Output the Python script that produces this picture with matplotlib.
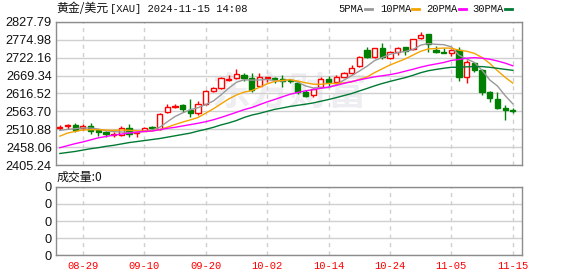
import matplotlib
matplotlib.use('Agg')
import matplotlib.pyplot as plt
import numpy as np
import pandas as pd
from matplotlib.lines import Line2D

# ---------------- data ----------------
dates = ['08-26', '08-27', '08-28', '08-29', '08-30',
         '09-02', '09-03', '09-04', '09-05', '09-06',
         '09-09', '09-10', '09-11', '09-12', '09-13',
         '09-16', '09-17', '09-18', '09-19', '09-20',
         '09-23', '09-24', '09-25', '09-26', '09-27',
         '09-30', '10-01', '10-02', '10-03', '10-04',
         '10-07', '10-08', '10-09', '10-10', '10-11',
         '10-14', '10-15', '10-16', '10-17', '10-18',
         '10-21', '10-22', '10-23', '10-24', '10-25',
         '10-28', '10-29', '10-30', '10-31', '11-01',
         '11-04', '11-05', '11-06', '11-07', '11-08',
         '11-11', '11-12', '11-13', '11-14', '11-15']

opens = [2515, 2520, 2524, 2514, 2520, 2510, 2502, 2495, 2495, 2514,
         2500, 2506, 2517, 2512, 2562, 2578, 2582, 2569, 2558, 2587,
         2623, 2632, 2656, 2661, 2672, 2661, 2638, 2662, 2661, 2659,
         2655, 2646, 2621, 2612, 2636, 2659, 2651, 2666, 2677, 2697,
         2744, 2723, 2749, 2720, 2739, 2752, 2747, 2779, 2791, 2745,
         2739, 2737, 2744, 2664, 2705, 2685, 2621, 2600, 2574, 2568]
highs = [2525, 2527, 2529, 2528, 2530, 2513, 2507, 2503, 2520, 2528,
         2503, 2517, 2522, 2560, 2587, 2587, 2587, 2600, 2593, 2626,
         2637, 2666, 2670, 2688, 2678, 2676, 2676, 2666, 2666, 2670,
         2659, 2652, 2626, 2632, 2664, 2668, 2670, 2680, 2699, 2727,
         2752, 2750, 2764, 2742, 2752, 2754, 2777, 2797, 2793, 2755,
         2750, 2747, 2754, 2714, 2708, 2688, 2623, 2622, 2582, 2575]
lows = [2510, 2511, 2502, 2508, 2497, 2490, 2488, 2488, 2492, 2489,
        2489, 2505, 2509, 2509, 2560, 2574, 2562, 2548, 2553, 2584,
        2621, 2629, 2653, 2658, 2653, 2621, 2636, 2651, 2646, 2636,
        2646, 2615, 2607, 2607, 2634, 2640, 2645, 2664, 2675, 2695,
        2720, 2720, 2717, 2717, 2730, 2730, 2745, 2777, 2738, 2736,
        2735, 2727, 2654, 2646, 2680, 2611, 2592, 2572, 2540, 2558]
closes = [2517, 2523, 2510, 2520, 2505, 2502, 2497, 2497, 2515, 2497,
          2502, 2516, 2514, 2557, 2577, 2580, 2570, 2560, 2587, 2623,
          2632, 2661, 2658, 2673, 2661, 2626, 2664, 2664, 2658, 2654,
          2652, 2621, 2609, 2629, 2658, 2651, 2665, 2677, 2693, 2725,
          2723, 2749, 2723, 2739, 2749, 2742, 2776, 2788, 2762, 2738,
          2737, 2744, 2664, 2708, 2687, 2621, 2602, 2575, 2567, 2566]
volume = [0] * 60

# moving-average values read from the chart where the window is not yet full
ma5_head = [2508, 2511, 2513, 2515]
ma10_head = [2491, 2500, 2505, 2509, 2510, 2510, 2509, 2508, 2509]
ma20_head = [2457, 2463, 2469, 2474, 2480, 2486, 2490, 2494, 2497, 2500,
             2503, 2505, 2506, 2510, 2514, 2517, 2521, 2525, 2529]
ma30_head = [2440, 2443, 2446, 2450, 2454, 2457, 2461, 2464, 2468, 2472,
             2475, 2478, 2481, 2484, 2488, 2492, 2496, 2500, 2506, 2511,
             2517, 2524, 2530, 2537, 2546, 2553, 2558, 2564, 2570]

price_ticks = [2405.24, 2458.06, 2510.88, 2563.70, 2616.52,
               2669.34, 2722.16, 2774.98, 2827.79]
xtick_labels = ['08-29', '09-10', '09-20', '10-02', '10-14', '10-24', '11-05', '11-15']
ma_names = ['5PMA', '10PMA', '20PMA', '30PMA']

# ---------------- styles ----------------
RED = '#ff0000'
GREEN = '#008000'
MA_COLORS = ['#999999', '#f5a300', '#ff00ff', '#007a33']
GRID = '#d0d0d0'
SPINE = '#8c8c8c'
W, H = 578, 276

def ma(n, head):
    s = pd.Series(closes, dtype=float).rolling(n).mean().to_numpy()
    s[:n - 1] = head
    return s

mas = [ma(5, ma5_head), ma(10, ma10_head), ma(20, ma20_head), ma(30, ma30_head)]

fig = plt.figure(figsize=(W / 100, H / 100), dpi=100)
ax = fig.add_axes([56 / W, (H - 165.3) / H, 466 / W, (165.3 - 21.7) / H])
axv = fig.add_axes([56 / W, (H - 255.3) / H, 466 / W, (255.3 - 186.7) / H], sharex=ax)

x = np.arange(len(dates))
o = np.array(opens, float)
c = np.array(closes, float)
hi = np.array(highs, float)
lo = np.array(lows, float)
up = c >= o
cols = np.where(up, RED, GREEN)

ax.vlines(x, lo, hi, colors=cols, linewidth=1.0, zorder=3)
hgt = np.maximum(np.abs(c - o), 1.0)
bot = np.minimum(o, c)
ax.bar(x[up], hgt[up], bottom=bot[up], width=0.68, facecolor='white',
       edgecolor=RED, linewidth=1.0, zorder=4)
ax.bar(x[~up], hgt[~up], bottom=bot[~up], width=0.68, facecolor=GREEN,
       edgecolor=GREEN, linewidth=1.0, zorder=4)

for m, col in zip(mas, MA_COLORS):
    ax.plot(x, m, color=col, linewidth=1.0, zorder=5)

# watermark
ax.text(0.5, 0.5, '东方财富', transform=ax.transAxes, fontsize=28,
        fontweight='bold', color='#eeeef2', ha='center', va='center',
        family=['Noto Sans CJK SC'], zorder=0)

ax.set_xlim(-0.5, 60.2)
ax.set_ylim(price_ticks[0], price_ticks[-1])
ax.set_yticks(price_ticks)
ax.set_yticklabels(['%.2f' % v for v in price_ticks])
tick_pos = [dates.index(d) for d in xtick_labels]
ax.set_xticks(tick_pos)
ax.tick_params(axis='x', length=0, labelbottom=False)
ax.tick_params(axis='y', length=0, pad=3, labelsize=9.2, labelcolor='#111111')
for lab in ax.get_yticklabels():
    lab.set_family('Liberation Sans')
ax.grid(axis='y', color=GRID, linewidth=1.0, linestyle='-', zorder=1)
ax.grid(axis='x', color=GRID, linewidth=1.0, linestyle=(0, (3, 3)), zorder=1)
ax.set_axisbelow(True)

# volume panel
axv.bar(x, volume, width=0.68, color=RED)
axv.set_ylim(0, 4)
axv.set_yticks([0, 1, 2, 3, 4])
axv.set_yticklabels(['0'] * 5)
axv.tick_params(axis='y', length=0, pad=3, labelsize=9.2, labelcolor='#111111')
for lab in axv.get_yticklabels():
    lab.set_family('Liberation Sans')
axv.tick_params(axis='x', length=0, pad=4, labelsize=7.6, labelcolor=RED)
axv.set_xticklabels(xtick_labels)
for lab in axv.get_xticklabels():
    lab.set_family('Liberation Mono')
axv.grid(axis='y', color=GRID, linewidth=1.0, linestyle='-')
axv.grid(axis='x', color=GRID, linewidth=1.0, linestyle=(0, (3, 3)))
axv.set_axisbelow(True)

for a in (ax, axv):
    for s in a.spines.values():
        s.set_color(SPINE)
        s.set_linewidth(1.0)

def fx(px):
    return px / W

def fy(py):
    return 1 - py / H

# title
fig.text(fx(56), fy(8.5), '黄金/美元', fontsize=8.6, family=['Noto Sans CJK SC'],
         va='center', ha='left', color='#111111')
fig.text(fx(110), fy(8.5), '[XAU] 2024-11-15 14:08', fontsize=7.6,
         family=['Liberation Mono'], va='center', ha='left', color='#111111')

# legend
legend_text_x = [338, 380, 426, 472]
legend_line_x = [(365, 372), (412, 419), (459, 466), (505, 512)]
for name, tx, (l0, l1), col in zip(ma_names, legend_text_x, legend_line_x, MA_COLORS):
    fig.text(fx(tx), fy(8.5), name, fontsize=7.6, family=['Liberation Mono'],
             va='center', ha='left', color='#111111')
    fig.add_artist(Line2D([fx(l0), fx(l1)], [fy(9), fy(9)], color=col,
                          linewidth=2.0, transform=fig.transFigure))

# volume label
fig.text(fx(57), fy(177.5), '成交量:0', fontsize=8.6,
         family=['Noto Sans CJK SC', 'DejaVu Sans'], va='center', ha='left',
         color='#111111')

fig.savefig('out.png', dpi=100)
